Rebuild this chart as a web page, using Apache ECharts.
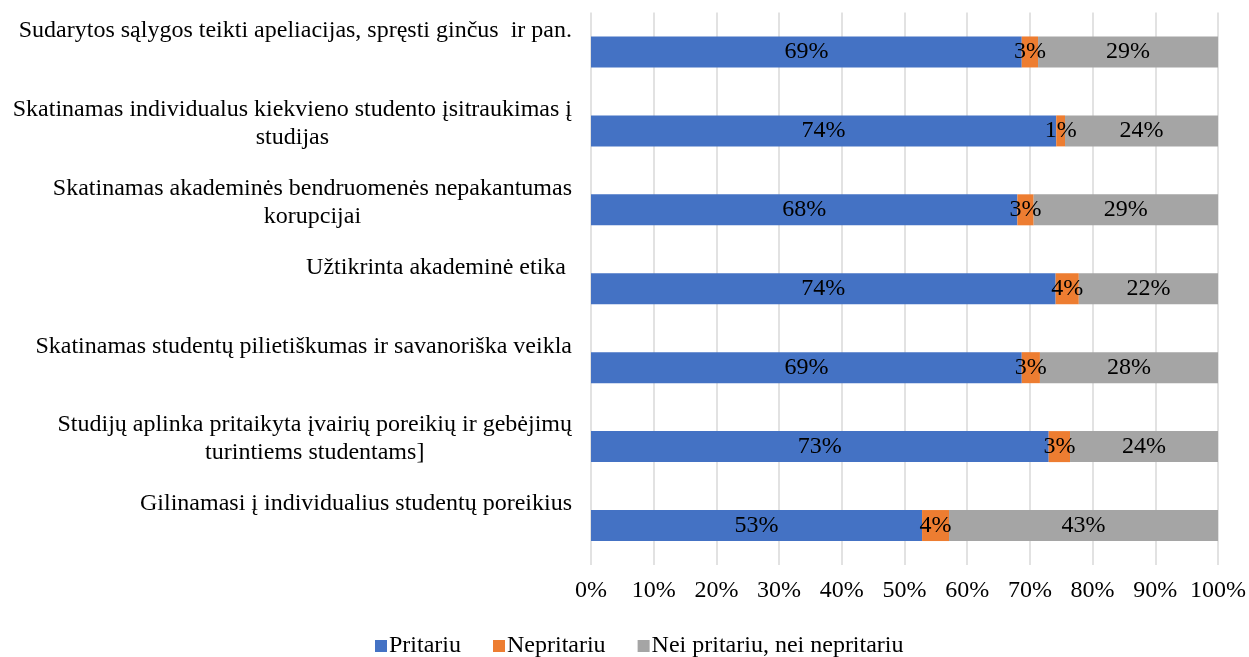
<!DOCTYPE html>
<html>
<head>
<meta charset="utf-8">
<script src="https://cdn.jsdelivr.net/npm/echarts@6/dist/echarts.min.js"></script>
<style>
html,body{margin:0;padding:0;background:#fff;}
#chart{width:1249px;height:657px;}
</style>
</head>
<body>
<div id="chart"></div>
<script>
const categories = [
  "Sudarytos sąlygos teikti apeliacijas, spręsti ginčus  ir pan.",
  "Skatinamas individualus kiekvieno studento įsitraukimas į\nstudijas",
  "Skatinamas akademinės bendruomenės nepakantumas\nkorupcijai",
  "Užtikrinta akademinė etika ",
  "Skatinamas studentų pilietiškumas ir savanoriška veikla",
  "Studijų aplinka pritaikyta įvairių poreikių ir gebėjimų\nturintiems studentams]",
  "Gilinamasi į individualius studentų poreikius"
];
const seriesNames = ["Pritariu", "Nepritariu", "Nei pritariu, nei nepritariu"];
const pritariu   = [68.7, 74.2, 68.0, 74.1, 68.7, 73.0, 52.8];
const nepritariu = [2.6, 1.4, 2.6, 3.7, 2.9, 3.4, 4.3];
const nei        = [28.7, 24.4, 29.4, 22.2, 28.4, 23.6, 42.9];
const xTicks = [0, 10, 20, 30, 40, 50, 60, 70, 80, 90, 100];
const colors = ["#4472C4", "#ED7D31", "#A5A5A5"];

const FONT = "'Liberation Serif', 'Times New Roman', serif";
const chart = echarts.init(document.getElementById('chart'));

function mkSeries(name, data, color) {
  return {
    name: name,
    type: 'bar',
    stack: 'total',
    yAxisIndex: 0,
    barWidth: 31,
    data: data,
    itemStyle: { color: color },
    label: {
      show: true,
      position: 'inside',
      color: '#000',
      fontFamily: FONT,
      fontSize: 24,
      formatter: p => Math.round(p.value) + '%'
    },
    emphasis: { disabled: true }
  };
}

const option = {
  animation: false,
  backgroundColor: '#fff',
  textStyle: { fontFamily: FONT },
  grid: { left: 591, right: 28, top: 12.5, bottom: 92, containLabel: false },
  xAxis: {
    type: 'value',
    min: xTicks[0],
    max: xTicks[xTicks.length - 1],
    interval: 10,
    axisLine: { show: false },
    axisTick: { show: false },
    splitLine: { show: true, lineStyle: { color: '#D9D9D9', width: 1.5 } },
    axisLabel: {
      margin: 14,
      color: '#000',
      fontFamily: FONT,
      fontSize: 24,
      formatter: '{value}%'
    }
  },
  yAxis: [
    {
      type: 'category',
      inverse: true,
      data: categories,
      position: 'left',
      axisLine: { show: false },
      axisTick: { show: false },
      axisLabel: { show: false },
      splitLine: { show: false }
    },
    {
      type: 'category',
      inverse: true,
      boundaryGap: false,
      position: 'left',
      data: categories.concat(['']),
      axisLine: { show: false },
      axisTick: { show: false },
      splitLine: { show: false },
      axisLabel: {
        interval: 0,
        margin: 19,
        align: 'right',
        verticalAlign: 'top',
        padding: [4, 0, 0, 0],
        color: '#000',
        fontFamily: FONT,
        fontSize: 24,
        lineHeight: 28,
        formatter: v => v.split('\n').map(l => '{c|' + l + '}').join('\n'),
        rich: {
          c: { align: 'center', fontFamily: FONT, fontSize: 24, lineHeight: 28, color: '#000' }
        }
      }
    }
  ],
  legend: {
    data: seriesNames,
    left: 370,
    top: 629,
    icon: 'rect',
    itemWidth: 12,
    itemHeight: 12,
    itemGap: 32,
    textStyle: { color: '#000', fontFamily: FONT, fontSize: 24, padding: [0, 0, 0, -3] }
  },
  series: [
    mkSeries(seriesNames[0], pritariu, colors[0]),
    mkSeries(seriesNames[1], nepritariu, colors[1]),
    mkSeries(seriesNames[2], nei, colors[2])
  ]
};
chart.setOption(option);
</script>
</body>
</html>
